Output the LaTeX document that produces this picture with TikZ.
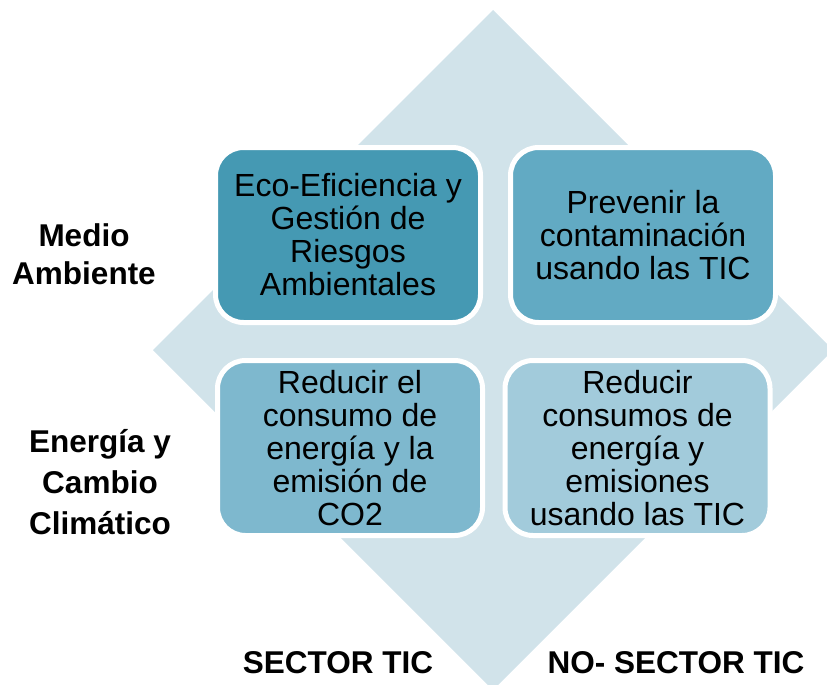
\documentclass[tikz,border=0pt]{standalone}
\usepackage{fontspec}
\setmainfont{Liberation Sans}
\definecolor{diamondc}{HTML}{D1E3EA}
\definecolor{boxa}{HTML}{4599B3}
\definecolor{boxb}{HTML}{62AAC3}
\definecolor{boxc}{HTML}{7EB8CE}
\definecolor{boxd}{HTML}{A2CBDB}
\begin{document}
\begin{tikzpicture}[x=1pt,y=-1pt,
  box/.style={draw=white, line width=5pt, rounded corners=28pt, minimum width=265pt, minimum height=175pt, inner sep=0pt, align=center, font=\fontsize{32}{33}\selectfont},
  sidelab/.style={align=center, font=\bfseries\fontsize{31.5}{38}\selectfont},
  botlab/.style={anchor=base, font=\bfseries\fontsize{31.5}{38}\selectfont}]
\useasboundingbox (0,0) rectangle (827,685);
\clip (0,0) rectangle (827,685);
\fill[diamondc] (493,10) -- (833,350) -- (493,690) -- (153,350) -- cycle;
\node[box, fill=boxa] (tl) at (348,235) {Eco-Eficiencia y\\Gestión de\\Riesgos\\Ambientales};
\node[box, fill=boxb] (tr) at (643,235) {Prevenir la\\contaminación\\usando las TIC};
\node[box, fill=boxc] (bl) at (350,448) {Reducir el\\consumo de\\energía y la\\emisión de\\CO2};
\node[box, fill=boxd] (br) at (637.5,448) {Reducir\\consumos de\\energía y\\emisiones\\usando las TIC};
\node[sidelab] (ma) at (84,254.5) {Medio\\Ambiente};
\node[sidelab, font=\bfseries\fontsize{31.5}{41}\selectfont] (ec) at (100,482) {Energía y\\Cambio\\Climático};
\node[botlab] (st) at (338,673) {SECTOR TIC};
\node[botlab] (nst) at (676,673) {NO- SECTOR TIC};
\end{tikzpicture}
\end{document}
